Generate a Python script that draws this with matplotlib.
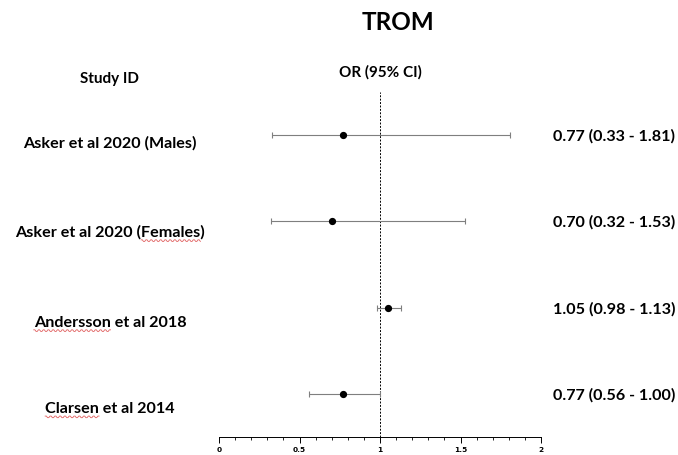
import numpy as np
import matplotlib
matplotlib.use("Agg")
import matplotlib.pyplot as plt
from matplotlib.ticker import MultipleLocator

studies = ["Asker et al 2020 (Males)", "Asker et al 2020 (Females)",
           "Andersson et al 2018", "Clarsen et al 2014"]
misspelled = ["", "Females", "Andersson", "Clarsen"]
odds = [0.77, 0.70, 1.05, 0.77]
lower = [0.33, 0.32, 0.98, 0.56]
upper = [1.81, 1.53, 1.13, 1.00]
xticks = [0, 0.5, 1, 1.5, 2]
xtick_labels = ["0", "0.5", "1", "1.5", "2"]

FONT = ["Lato", "DejaVu Sans"]
W, H = 678, 455
fig = plt.figure(figsize=(W / 100, H / 100), dpi=100)
ax = fig.add_axes([219 / W, 18 / H, 322 / W, 345 / H])

ypos = np.arange(len(studies))
odds_a = np.array(odds)
err = np.vstack([odds_a - np.array(lower), np.array(upper) - odds_a])
ax.errorbar(odds_a, ypos, xerr=err, fmt="o", color="black", ms=4.2,
            ecolor="#7f7f7f", elinewidth=0.8, capsize=2.2, capthick=0.8, zorder=3)
ax.axvline(1, color="black", lw=0.7, ls=(0, (2, 1.5)), zorder=2)

ax.set_xlim(0, 2)
ax.set_ylim(len(studies) - 0.5, -0.5)
for s in ["top", "right", "left"]:
    ax.spines[s].set_visible(False)
ax.spines["bottom"].set_linewidth(0.7)
ax.set_yticks([])
ax.set_xticks(xticks)
ax.set_xticklabels(xtick_labels, fontsize=5.3, fontweight="bold", family="DejaVu Sans")
ax.xaxis.set_minor_locator(MultipleLocator(0.1))
ax.tick_params(axis="x", which="major", length=4, width=0.7, pad=3)
ax.tick_params(axis="x", which="minor", length=2.5, width=0.6)

fig.text(398 / W, 1 - 22 / H, "TROM", ha="center", va="center",
         fontsize=17.5, fontweight="bold", family=FONT)
fig.text(109 / W, 1 - 79 / H, "Study ID", ha="center", va="center",
         fontsize=11, fontweight="bold", family=FONT)
fig.text(380 / W, 1 - 72 / H, "OR (95% CI)", ha="center", va="center",
         fontsize=11, fontweight="bold", family=FONT)

LS = 11.6
label_offsets = [8, 11, 15, 15]
val_offsets = [1, 1, 2, 1]
fig.canvas.draw()
renderer = fig.canvas.get_renderer()
for i, name in enumerate(studies):
    yd = ax.transData.transform((0, ypos[i]))[1]
    t = fig.text(110 / W, (yd - label_offsets[i]) / H, name, ha="center", va="center",
                 fontsize=LS, fontweight="bold", family=FONT)
    ax.text(1.037, ypos[i] + val_offsets[i] / 86.25, f"{odds[i]:.2f} ({lower[i]:.2f} - {upper[i]:.2f})",
            transform=ax.get_yaxis_transform(), ha="left", va="center",
            fontsize=11.6, fontweight="bold", family=FONT)
    word = misspelled[i]
    if word:
        bb = t.get_window_extent(renderer)
        k = name.index(word)
        pre = fig.text(0, 0, name[:k], fontsize=LS, fontweight="bold", family=FONT)
        wtxt = fig.text(0, 0, name[:k + len(word)], fontsize=LS, fontweight="bold", family=FONT)
        x0 = bb.x0 + (pre.get_window_extent(renderer).width if k else 0)
        x1 = bb.x0 + wtxt.get_window_extent(renderer).width
        pre.remove(); wtxt.remove()
        xs = np.linspace(x0, x1, int((x1 - x0) / 1.2) + 2)
        ys = bb.y0 - 1 + 0.8 * np.sign(np.sin(np.arange(len(xs)) * np.pi / 2 + 0.3))
        fig.add_artist(plt.Line2D(xs / W, ys / H, color="#e06060", lw=0.6,
                                  transform=fig.transFigure))

fig.savefig("out.png", dpi=100, facecolor="white")
